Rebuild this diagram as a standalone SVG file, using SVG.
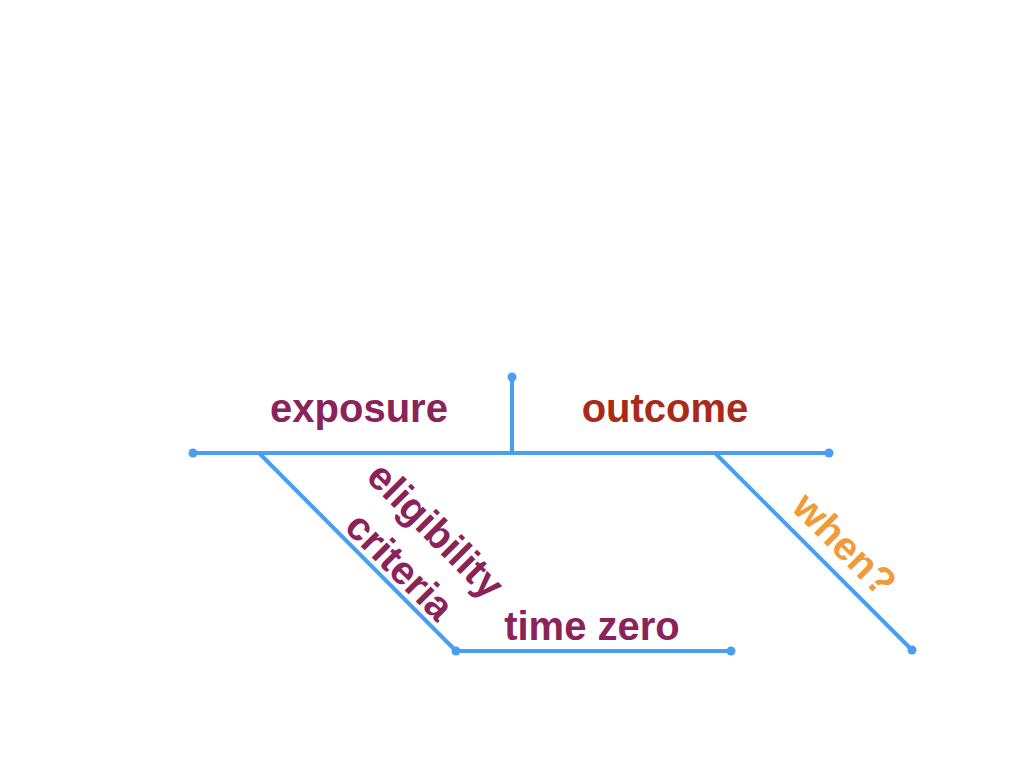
<svg xmlns="http://www.w3.org/2000/svg" width="1024" height="768" viewBox="0 0 1024 768">
<style>
.ln{stroke:#4A9EF2;stroke-width:4;fill:none;stroke-linecap:round;stroke-linejoin:round}
.dot{fill:#4A9EF2}
.t{font-family:"Liberation Sans",Arial,sans-serif;font-weight:bold;font-size:40px}
.pu{fill:#8A2359}
.rd{fill:#A82B1A}
.or{fill:#F09B37}
</style>
<rect width="1024" height="768" fill="#fff"/>
<g id="connectors">
<line class="ln" x1="193" y1="453" x2="829" y2="453"/>
<line class="ln" x1="512" y1="377" x2="512" y2="453"/>
<line class="ln" x1="260" y1="454" x2="456" y2="651"/>
<line class="ln" x1="456" y1="651" x2="731" y2="651"/>
<line class="ln" x1="716" y1="454" x2="912" y2="650"/>
<circle class="dot" cx="193" cy="453" r="4.5"/>
<circle class="dot" cx="829" cy="453" r="4.5"/>
<circle class="dot" cx="512" cy="377" r="4.5"/>
<circle class="dot" cx="456" cy="651" r="4.5"/>
<circle class="dot" cx="731" cy="651" r="4.5"/>
<circle class="dot" cx="912" cy="650" r="4.5"/>
</g>
<g id="exposure"><text class="t pu" x="359" y="422" text-anchor="middle">exposure</text></g>
<g id="outcome"><text class="t rd" x="665" y="422" text-anchor="middle">outcome</text></g>
<g id="time-zero"><text class="t pu" x="592" y="640" text-anchor="middle">time zero</text></g>
<g id="eligibility-criteria">
<text class="t pu" text-anchor="middle" dominant-baseline="central" transform="translate(436,530) rotate(45)">eligibility</text>
<text class="t pu" text-anchor="middle" dominant-baseline="central" transform="translate(400,566) rotate(45)">criteria</text>
</g>
<g id="when"><text class="t or" text-anchor="middle" dominant-baseline="central" transform="translate(845,544) rotate(45)">when?</text></g>
</svg>
